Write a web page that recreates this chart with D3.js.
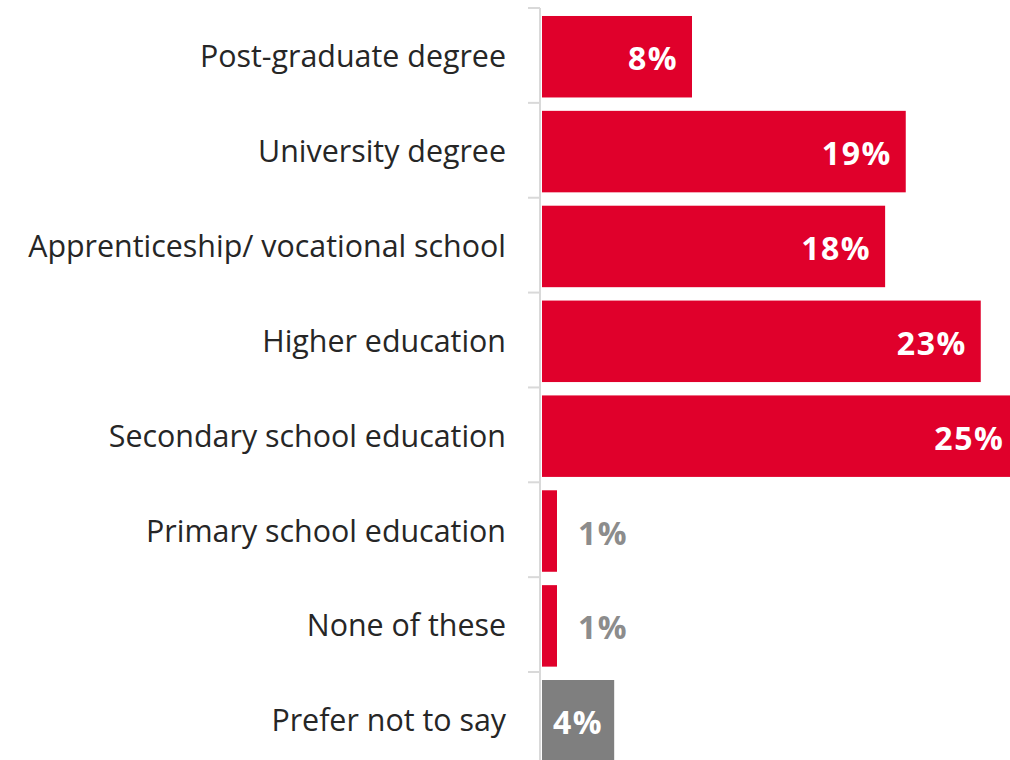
<!DOCTYPE html>
<html><head><meta charset="utf-8">
<script src="https://cdn.jsdelivr.net/npm/d3@7"></script>
<style>html,body{margin:0;padding:0;background:#fff;overflow:hidden}</style>
</head><body>
<svg id="chart" width="1010" height="760"></svg>
<script>
const categories = ["Post-graduate degree","University degree","Apprenticeship/ vocational school","Higher education","Secondary school education","Primary school education","None of these","Prefer not to say"];
const values = [8.0, 19.4, 18.3, 23.4, 25.4, 0.8, 0.8, 3.85];
const valueLabels = ["8%","19%","18%","23%","25%","1%","1%","4%"];
const barColors = ["#e0002b","#e0002b","#e0002b","#e0002b","#e0002b","#e0002b","#e0002b","#7f7f7f"];

const svg = d3.select("#chart");
const x0 = 542;
const x = d3.scaleLinear().domain([0, 25]).range([x0, x0 + 25*18.75]);
const stepPx = 94.86;
const y = d3.scaleBand().domain(categories).range([9.3, 9.3 + 8*stepPx]).paddingInner(0.141).paddingOuter(0.0705);
const step = y.step();

svg.append("line").attr("x1",540).attr("x2",540).attr("y1",8).attr("y2",770)
  .attr("stroke","#d9d9d9").attr("stroke-width",2);
const bounds = d3.range(0, categories.length+1).map(i => 8 + i*step);
svg.selectAll("line.tick").data(bounds).join("line").attr("class","tick")
  .attr("x1",528).attr("x2",540).attr("y1",d=>d).attr("y2",d=>d)
  .attr("stroke","#d9d9d9").attr("stroke-width",2);

const data = categories.map((c,i)=>({c, v:values[i], l:valueLabels[i], col:barColors[i]}));

svg.selectAll("rect.bar").data(data).join("rect").attr("class","bar")
  .attr("x", x(0)).attr("y", d=>y(d.c)).attr("width", d=>x(d.v)-x(0)).attr("height", y.bandwidth())
  .attr("fill", d=>d.col);

svg.selectAll("text.cat").data(data).join("text").attr("class","cat")
  .attr("x", 506).attr("y", d=>y(d.c)+y.bandwidth()/2 + 10.5)
  .attr("text-anchor","end").attr("font-family","'Open Sans', sans-serif").attr("font-size",30.4)
  .attr("fill","#262626").text(d=>d.c);

svg.selectAll("text.val").data(data).join("text").attr("class","val")
  .attr("x", d=>{const w=x(d.v)-x(0); if (w>120) return x(d.v)-14; if (w>60) return x(0)+w/2; return x(d.v)+21;})
  .attr("y", d=>y(d.c)+y.bandwidth()/2 + 13.5)
  .attr("text-anchor", d=>{const w=x(d.v)-x(0); if (w>120) return "end"; if (w>60) return "middle"; return "start";})
  .attr("font-family","'Open Sans', sans-serif").attr("font-weight","bold").attr("font-size",32)
  .attr("letter-spacing", 1.5)
  .attr("fill", d=> (x(d.v)-x(0))>60 ? "#ffffff" : "#8c8c8c").text(d=>d.l);
</script>
</body></html>
